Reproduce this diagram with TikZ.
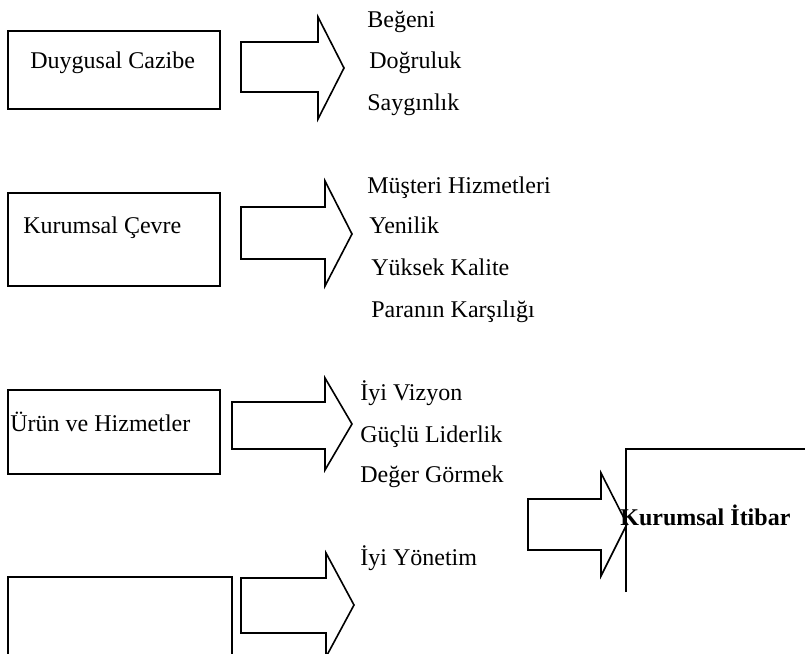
\documentclass[tikz,border=0pt]{standalone}
\usepackage{fontspec}
\setmainfont{Liberation Serif}
\usetikzlibrary{positioning}

% block arrow: tail x, body top, body bottom, head x, head top, head bottom, tip x, tip y
\newcommand{\blokok}[8]{%
  \draw[cizgi] (#1,#2) -- (#4,#2) -- (#4,#5) -- (#7,#8) -- (#4,#6) -- (#4,#3) -- (#1,#3) -- cycle;}

\begin{document}
\begin{tikzpicture}[x=0.5pt, y=-0.5pt, font=\fontsize{12}{14}\selectfont,
  cizgi/.style={draw=black, line width=0.8pt, line join=miter},
  kutu/.style={draw=black, line width=0.8pt, inner sep=0pt},
  yazi/.style={anchor=base west, inner sep=0pt}]
\useasboundingbox (0,0) rectangle (805,654);
\clip (0,0) rectangle (805,654);

% left boxes
\node[kutu, minimum width=106pt, minimum height=39pt] (duygu) at (114,70) {};
\node[kutu, minimum width=106pt, minimum height=46.5pt] (cevre) at (114,239.5) {};
\node[kutu, minimum width=106pt, minimum height=42pt] (urun) at (114,432) {};
\draw[cizgi] (8,660) -- (8,577) -- (232,577) -- (232,660);

\node[yazi] (duygut) at (30,68) {Duygusal Cazibe};
\node[yazi] (cevret) at (23,233) {Kurumsal Çevre};
\node[yazi] (urunt) at (10,431) {Ürün ve Hizmetler};

% block arrows
\blokok{241}{42}{92}{318}{17}{119}{344}{68}
\blokok{241}{207}{259}{325}{181}{286}{352}{234}
\blokok{232}{402}{449}{325}{378}{470}{352}{424}
\blokok{241}{578}{633}{326}{553}{657}{354}{605}
\blokok{528}{499}{550}{601}{473}{576}{627}{524}

% item lists
\node[yazi] (begeni) at (367,27) {Beğeni};
\node[yazi] (dogru) at (369,68) {Doğruluk};
\node[yazi] (saygi) at (367,110) {Saygınlık};

\node[yazi] (musteri) at (367,193) {Müşteri Hizmetleri};
\node[yazi] (yenilik) at (369,233) {Yenilik};
\node[yazi] (kalite) at (371,275) {Yüksek Kalite};
\node[yazi] (para) at (371,317) {Paranın Karşılığı};

\node[yazi] (vizyon) at (360,400) {İyi Vizyon};
\node[yazi] (lider) at (360,442) {Güçlü Liderlik};
\node[yazi] (deger) at (360,482) {Değer Görmek};
\node[yazi] (yonetim) at (360,565) {İyi Yönetim};

% right box
\draw[cizgi] (626,592) -- (626,449) -- (810,449);
\node[yazi, font=\fontsize{12}{14}\selectfont\bfseries] (itibar) at (620,525) {Kurumsal İtibar};
\end{tikzpicture}
\end{document}
